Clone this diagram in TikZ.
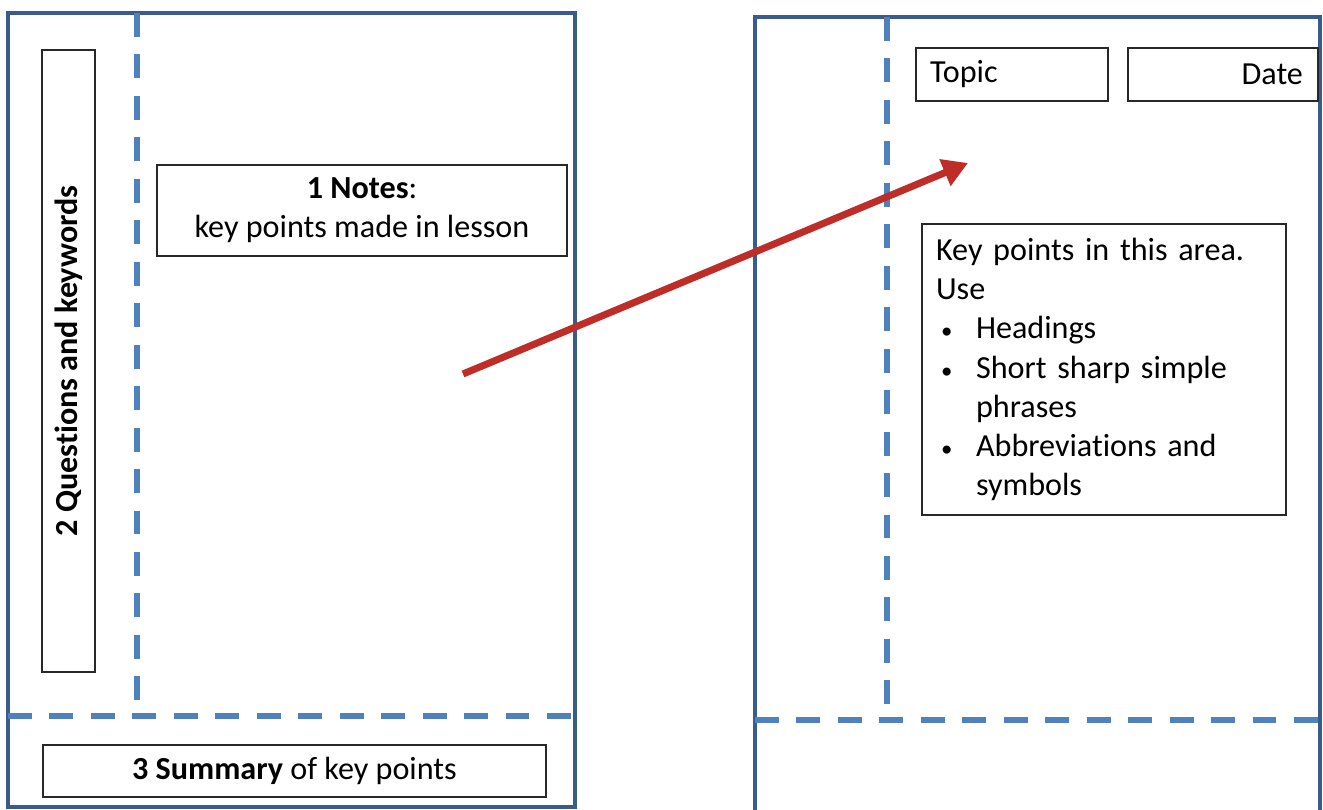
\documentclass[tikz,border=0pt]{standalone}
\usepackage{fontspec}
\setmainfont{Carlito}[Ligatures=NoCommon]
\usetikzlibrary{arrows.meta,positioning}
\definecolor{pageBlue}{RGB}{56,93,138}
\definecolor{dashBlue}{RGB}{79,129,189}
\definecolor{arrowRed}{RGB}{190,45,40}
\definecolor{boxGray}{RGB}{40,40,40}
\newcommand\kpbullet{\makebox[0.8cm][l]{\hspace{0.1cm}{\fontsize{13}{13}\selectfont\textbullet}}}

\begin{document}
\begin{tikzpicture}[x=0.02cm, y=-0.02cm,
  page/.style={draw=pageBlue, line width=2.2pt},
  divider/.style={draw=dashBlue, line width=3.4pt, dash pattern=on 13.6pt off 10pt},
  labelbox/.style={draw=boxGray, line width=1.1pt, inner sep=0pt,
                   font=\fontsize{18.3}{22.3}\selectfont}]
  \clip (0,0) rectangle (1323,810);
  % Left page: the layout
  \draw[page] (8,13) rectangle (575,807);
  \draw[divider] (137,13) -- (137,716);
  \draw[divider] (8,716) -- (575,716);
  \node[labelbox, rotate=90, minimum width=12.44cm, minimum height=1.06cm]
    (quest) at (68.5,361) {\bfseries 2 Questions and keywords};
  \node[labelbox, minimum width=8.2cm, minimum height=1.82cm, align=center]
    (notes) at (362,210.5) {{\bfseries 1 Notes}:\\key points made in lesson};
  \node[labelbox, minimum width=10.06cm, minimum height=1.04cm]
    (summary) at (294.5,771) {{\bfseries 3 Summary} of key points};
  % Right page: a filled-in sheet
  \draw[page] (755,17) rectangle (1320,840);
  \draw[divider] (887,17) -- (887,720);
  \draw[divider] (755,720) -- (1320,720);
  \node[labelbox, minimum height=1.06cm, inner xsep=0.28cm,
        text width=3.28cm, align=left] (topic) at (1012,74.5) {Topic};
  \node[labelbox, minimum height=1.06cm, inner xsep=0.3cm,
        text width=3.2cm, align=right] (date) at (1223,74.5) {Date};
  \node[labelbox, minimum height=5.82cm, inner xsep=0.28cm,
        text width=6.72cm, align=left] (keypts) at (1104,369.5)
    {Key points in this area.\\
     Use\\
     \kpbullet Headings\\
     \kpbullet Short sharp simple\\
     \hspace*{0.8cm}phrases\\
     \kpbullet Abbreviations and\\
     \hspace*{0.8cm}symbols};
  % Arrow from notes column to sheet
  \coordinate (from) at (463,374);
  \coordinate (to) at (968,163);
  \draw[arrowRed, line width=4pt, -{Triangle[length=0.5cm,width=0.55cm]}]
    (from) -- (to);
\end{tikzpicture}
\end{document}
